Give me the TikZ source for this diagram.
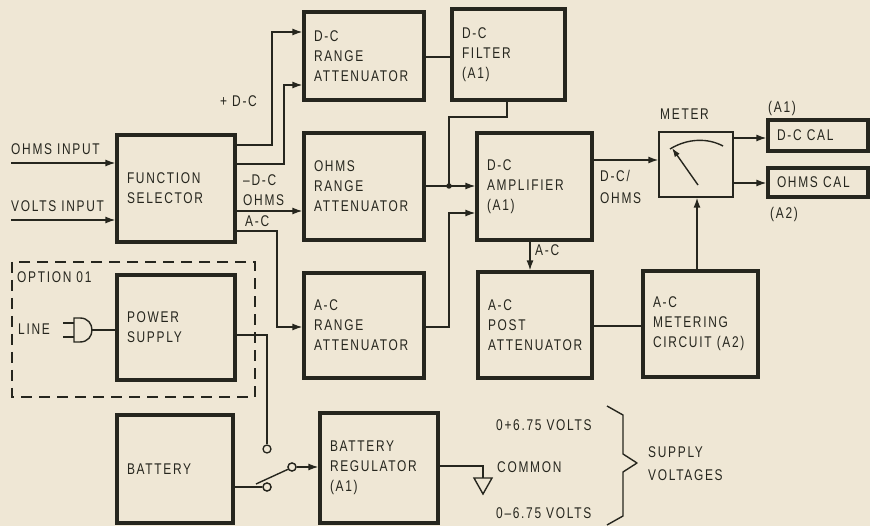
\documentclass[tikz,border=0pt]{standalone}
\usepackage{fontspec}
\newfontfamily\lab[FakeStretch=0.77,LetterSpace=11]{Liberation Sans}
\usetikzlibrary{arrows.meta}
\definecolor{bg}{RGB}{239,231,213}
\definecolor{ink}{RGB}{38,38,30}
\begin{document}
\begin{tikzpicture}[x=1pt,y=-1pt,
  every node/.style={font=\lab\fontsize{15.5}{20}\selectfont, text=ink},
  blk/.style={draw=ink, line width=3.2pt, inner xsep=10pt, inner ysep=0pt, align=left, anchor=center},
  lbl/.style={anchor=base west, inner sep=0pt},
  wire/.style={draw=ink, line width=1.4pt},
  arr/.style={wire, -{Latex[length=10pt,width=7pt]}},
  contact/.style={circle, draw=ink, fill=bg, line width=1.3pt, inner sep=0pt, minimum size=8pt},
  dot/.style={circle, fill=ink, inner sep=0pt, minimum size=5.5pt}]
\fill[bg] (0,0) rectangle (870,526);
\useasboundingbox (0,0) rectangle (870,526);

% blocks
\node[blk, text width=98pt, minimum height=107pt] (fs) at (176,188.5) {FUNCTION\\SELECTOR};
\node[blk, text width=100pt, minimum height=88pt] (dcr) at (364,56) {D-C\\RANGE\\ATTENUATOR};
\node[blk, text width=100pt, minimum height=107pt] (ohr) at (364,186.5) {OHMS\\RANGE\\ATTENUATOR};
\node[blk, text width=100pt, minimum height=105pt] (acr) at (364,325.5) {A-C\\RANGE\\ATTENUATOR};
\node[blk, text width=93pt, minimum height=91pt] (dcf) at (508.5,54.5) {D-C\\FILTER\\(A1)};
\node[blk, text width=95pt, minimum height=107pt] (amp) at (534.5,186.5) {D-C\\AMPLIFIER\\(A1)};
\node[blk, text width=94pt, minimum height=106pt] (post) at (535,325) {A-C\\POST\\ATTENUATOR};
\node[blk, text width=95pt, minimum height=106pt] (metc) at (700.5,324) {A-C\\METERING\\CIRCUIT (A2)};
\node[blk, text width=98pt, minimum height=105pt] (ps) at (176,327.5) {POWER\\SUPPLY};
\node[blk, text width=96pt, minimum height=108pt] (bat) at (175,469) {BATTERY};
\node[blk, text width=98pt, minimum height=110pt] (reg) at (379,468) {BATTERY\\REGULATOR\\(A1)};
\node[blk, text width=82pt, inner xsep=9pt, minimum height=31pt] (dccal) at (818,135.5) {D-C CAL};
\node[blk, text width=82pt, inner xsep=9pt, minimum height=29pt] (ohmscal) at (818,182.5) {OHMS CAL};
\node[draw=ink, line width=1.3pt, minimum width=74pt, minimum height=65pt, inner sep=0pt] (meter) at (696,164.5) {};

% meter face
\draw[wire] (670,149) .. controls (688,138) and (708,138) .. (723,146);
\draw[wire, -{Latex[length=9pt,width=6pt]}] (698,185) -- (672,148);

% labels
\node[lbl] (l1) at (11,155) {OHMS INPUT};
\node[lbl] (l2) at (11,212) {VOLTS INPUT};
\node[lbl] (l3) at (220,107) {+ D-C};
\node[lbl] (l4) at (243,186) {–D-C};
\node[lbl] (l5) at (243,206) {OHMS};
\node[lbl] (l6) at (245,227) {A-C};
\node[lbl] (l7) at (600,182) {D-C/};
\node[lbl] (l8) at (600,204) {OHMS};
\node[lbl] (l9) at (660,120) {METER};
\node[lbl] (l10) at (768,113) {(A1)};
\node[lbl] (l11) at (770,219) {(A2)};
\node[lbl] (l12) at (535,256) {A-C};
\node[lbl] (l13) at (17,283) {OPTION 01};
\node[lbl] (l14) at (18,335) {LINE};
\node[lbl] (l15) at (496,430) {0+6.75 VOLTS};
\node[lbl] (l16) at (497,472) {COMMON};
\node[lbl] (l17) at (496,518) {0–6.75 VOLTS};
\node[lbl] (l18) at (648,457) {SUPPLY};
\node[lbl] (l19) at (648,480) {VOLTAGES};

% inputs
\coordinate (oin) at (11,163);
\coordinate (vin) at (11,220);
\draw[arr] (oin) -- (fs.west |- 0,163);
\draw[arr] (vin) -- (fs.west |- 0,220);

% function selector outputs
\draw[arr] (fs.east |- 0,145) -| (272,32) -- (dcr.west |- 0,32);
\draw[arr] (fs.east |- 0,164) -| (284,85) -- (dcr.west |- 0,85);
\draw[arr] (fs.east |- 0,211) -- (ohr.west |- 0,211);
\draw[arr] (fs.east |- 0,231) -| (277,327) -- (acr.west |- 0,327);

% to amplifier
\draw[wire] (dcr.east |- 0,57) -- (dcf.west |- 0,57);
\node[dot] (j) at (449,186) {};
\draw[wire] (dcf.south -| 507,0) -- (507,117) -- (449,117) -- (j.center);
\draw[arr] (ohr.east |- 0,186) -- (amp.west |- 0,186);
\draw[arr] (acr.east |- 0,327) -| (449,213) -- (amp.west |- 0,213);
\draw[arr] (amp.east |- 0,160) -- (meter.west |- 0,160);
\draw[arr] (amp.south -| 530,0) -- (post.north -| 530,0);
\draw[wire] (post.east |- 0,326) -- (metc.west |- 0,326);
\draw[arr] (metc.north -| 697,0) -- (meter.south -| 697,0);
\draw[arr] (meter.east |- 0,138) -- (dccal.west |- 0,138);
\draw[arr] (meter.east |- 0,183) -- (ohmscal.west |- 0,183);

% option box and plug
\draw[wire, dash pattern=on 11pt off 7pt] (12,262) rectangle (255,397);
\draw[wire] (63,323) -- (74,323) (63,337) -- (74,337);
\draw[wire] (74,318) -- (80,318) .. controls (96,318) and (96,342) .. (80,342) -- (74,342) -- cycle;
\coordinate (plug) at (91,330);
\draw[wire] (plug) -- (ps.west |- 0,330);

% switch
\node[contact] (c1) at (267,449) {};
\node[contact] (c2) at (267,487) {};
\node[contact] (c3) at (292,467) {};
\draw[wire] (ps.east |- 0,335) -| (c1.north);
\draw[wire] (bat.east |- 0,487) -- (c2.west);
\draw[wire] (c3.210) -- (256,484);
\draw[arr] (c3.east) -- (reg.west |- c3);
\node[contact] at (267,487) {};
\node[contact] at (292,467) {};

% ground
\draw[wire] (reg.east |- 0,466) -| (483,478);
\draw[wire] (474,478) -- (492,478) -- (483,494) -- cycle;

% brace
\draw[wire, line join=round] (607,406) -- (623,415) -- (623,454) -- (637,463) -- (623,472) -- (623,516) -- (607,525);
\end{tikzpicture}
\end{document}
